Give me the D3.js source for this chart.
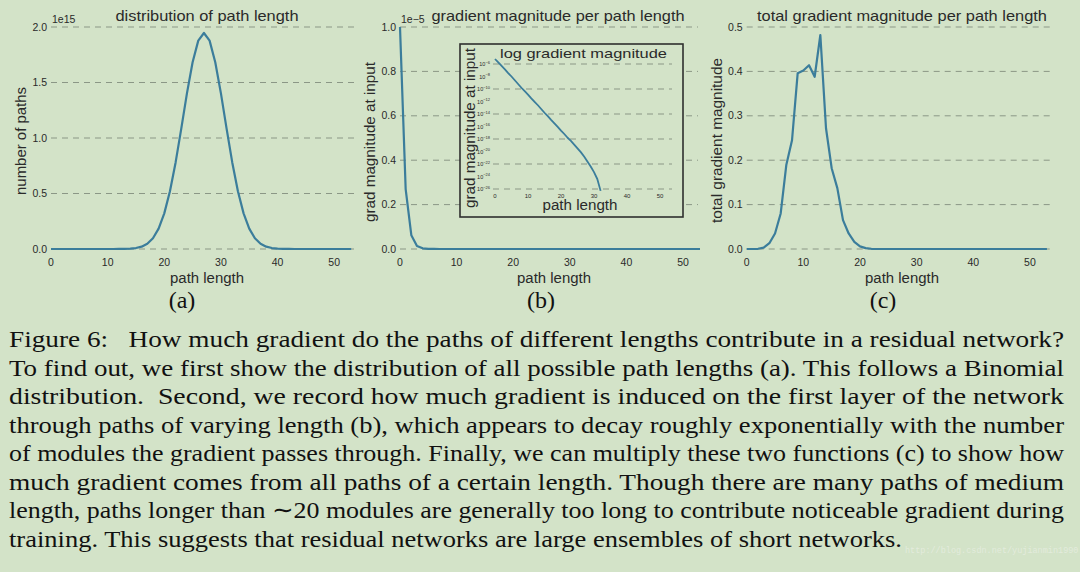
<!DOCTYPE html>
<html><head><meta charset="utf-8">
<script src="https://cdn.jsdelivr.net/npm/d3@7/dist/d3.min.js"></script>
<style>html,body{margin:0;padding:0;background:#d3e3c8;} svg{display:block}</style>
</head><body>
<svg id="chart" width="1080" height="572"></svg>
<script>
// ---------------- data ----------------
const pathLengths = [0,1,2,3,4,5,6,7,8,9,10,11,12,13,14,15,16,17,18,19,20,21,22,23,24,25,26,27,28,29,30,31,32,33,34,35,36,37,38,39,40,41,42,43,44,45,46,47,48,49,50,51,52,53];
// (a) number of paths, units of 1e15
const numPaths = [0,0,0,0,0,0,0,0,0,0,0,0.0001,0.0003,0.0011,0.0032,0.0087,0.021,0.047,0.097,0.184,0.321,0.520,0.780,1.085,1.402,1.682,1.877,1.946,1.877,1.682,1.402,1.085,0.780,0.520,0.321,0.184,0.097,0.047,0.021,0.0087,0.0032,0.0011,0.0003,0.0001,0,0,0,0,0,0,0,0,0,0];
// (b) gradient magnitude at input, units of 1e-5
const gradMag = [1.0,0.27,0.062,0.014,0.003,0.0008,0.0002,0,0,0,0,0,0,0,0,0,0,0,0,0,0,0,0,0,0,0,0,0,0,0,0,0,0,0,0,0,0,0,0,0,0,0,0,0,0,0,0,0,0,0,0,0,0,0];
// (b) inset: log10 of gradient magnitude for path lengths 0..32
const logGradExp = [-5.2,-5.75,-6.3,-6.85,-7.45,-8.0,-8.6,-9.2,-9.8,-10.35,-10.9,-11.5,-12.05,-12.6,-13.2,-13.8,-14.35,-14.95,-15.5,-16.05,-16.65,-17.2,-17.8,-18.3,-18.9,-19.5,-20.1,-20.8,-21.6,-22.4,-23.3,-24.4,-26.3];
// (c) total gradient magnitude
const totalGrad = [0,0,0.0005,0.003,0.013,0.035,0.08,0.19,0.245,0.396,0.402,0.414,0.388,0.482,0.272,0.182,0.137,0.065,0.035,0.016,0.006,0.002,0.0005,0,0,0,0,0,0,0,0,0,0,0,0,0,0,0,0,0,0,0,0,0,0,0,0,0,0,0,0,0,0,0];

const xTicks = [0,10,20,30,40,50];
const yTicksA = [0.0,0.5,1.0,1.5,2.0];
const yTicksB = [0.0,0.2,0.4,0.6,0.8,1.0];
const yTicksC = [0.0,0.1,0.2,0.3,0.4,0.5];
const insetYTicks = [-6,-8,-10,-12,-14,-16,-18,-20,-22,-24,-26];
const insetGridExp = [-6,-10,-14,-18,-22,-26];

const captionLines = [
 "Figure 6:\u00a0\u00a0 How much gradient do the paths of different lengths contribute in a residual network?",
 "To find out, we first show the distribution of all possible path lengths (a). This follows a Binomial",
 "distribution.\u00a0 Second, we record how much gradient is induced on the first layer of the network",
 "through paths of varying length (b), which appears to decay roughly exponentially with the number",
 "of modules the gradient passes through. Finally, we can multiply these two functions (c) to show how",
 "much gradient comes from all paths of a certain length. Though there are many paths of medium",
 "length, paths longer than \u223c20 modules are generally too long to contribute noticeable gradient during",
 "training. This suggests that residual networks are large ensembles of short networks."
];

// ---------------- drawing ----------------
const svg = d3.select('#chart');
const BG = '#d3e3c8', LINE = '#3b7d9b', TXT = '#2a2a2a', GRID = '#8b9786';
const FAM = {sans: "'Liberation Sans'", serif: "'Liberation Serif'", mono: "'Liberation Mono'"};

svg.append('rect').attr('width',1080).attr('height',572).attr('fill',BG);

function T(sel, x, y, s, o = {}) {
  const t = sel.append('text').attr('x', x).attr('y', y).text(s)
    .style('font-family', FAM[o.cls || 'sans'])
    .attr('font-size', o.size || 12)
    .attr('fill', o.fill || TXT)
    .attr('text-anchor', o.anchor || 'start');
  if (o.len) t.attr('textLength', o.len).attr('lengthAdjust', 'spacingAndGlyphs');
  return t;
}
function VT(sel, x, y, s, o = {}) {
  const t = sel.append('text').attr('transform', `translate(${x},${y}) rotate(-90)`).text(s)
    .style('font-family', FAM.sans).attr('font-size', o.size || 14).attr('fill', TXT)
    .attr('text-anchor', 'middle').attr('dominant-baseline', 'central');
  if (o.len) t.attr('textLength', o.len).attr('lengthAdjust', 'spacingAndGlyphs');
  return t;
}

const yRange = [249, 27];

function panel(cfg) {
  const g = svg.append('g');
  const x = d3.scaleLinear().domain(cfg.xdom).range(cfg.xr);
  const y = d3.scaleLinear().domain(cfg.ydom).range(yRange);
  g.selectAll('line.grid').data(cfg.yTicks).join('line')
    .attr('x1', cfg.xr[0]).attr('x2', cfg.gridEnd)
    .attr('y1', d => y(d)).attr('y2', d => y(d))
    .attr('stroke', GRID).attr('stroke-width', 1).attr('stroke-dasharray', '6,5');
  cfg.yTicks.forEach(v => T(g, cfg.xr[0] - 4, y(v) + 3.5, v.toFixed(1), {size: 10.5, anchor: 'end'}));
  xTicks.forEach(v => T(g, x(v), 266, String(v), {size: 10.5, anchor: 'middle'}));
  const line = d3.line().x((d, i) => x(pathLengths[i])).y(d => y(d));
  g.append('path').datum(cfg.values).attr('d', line)
    .attr('fill', 'none').attr('stroke', LINE).attr('stroke-width', 2.2).attr('stroke-linejoin', 'round');
  T(g, cfg.titleX, 21, cfg.title, {size: 14.5, anchor: 'middle', len: cfg.titleLen});
  T(g, cfg.xlabX, 283, 'path length', {size: 14, anchor: 'middle', len: 74});
  VT(g, cfg.ylabX, cfg.ylabY, cfg.ylab, {size: 14.5, len: cfg.ylabLen});
  if (cfg.offset) T(g, cfg.xr[0] + 1, 23, cfg.offset, {size: 10.5});
  T(svg, cfg.capX, 308, cfg.cap, {cls: 'serif', size: 24, anchor: 'middle', fill: '#111'});
  return {g, x, y};
}

panel({xdom: [0, 54.2], xr: [51, 358], gridEnd: 358, ydom: [0, 2.0], yTicks: yTicksA, values: numPaths,
  title: 'distribution of path length', titleX: 207, titleLen: 183, xlabX: 207,
  ylab: 'number of paths', ylabX: 21, ylabY: 141, ylabLen: 108, offset: '1e15', capX: 182, cap: '(a)'});

panel({xdom: [0, 53], xr: [400, 700], gridEnd: 698, ydom: [0, 1.0], yTicks: yTicksB, values: gradMag,
  title: 'gradient magnitude per path length', titleX: 558, titleLen: 253, xlabX: 554,
  ylab: 'grad magnitude at input', ylabX: 370, ylabY: 142, ylabLen: 160, offset: '1e\u22125', capX: 541, cap: '(b)'});

panel({xdom: [0, 54], xr: [746.7, 1052.6], gridEnd: 1052, ydom: [0, 0.5], yTicks: yTicksC, values: totalGrad,
  title: 'total gradient magnitude per path length', titleX: 902, titleLen: 290, xlabX: 902,
  ylab: 'total gradient magnitude', ylabX: 717, ylabY: 140.5, ylabLen: 165, capX: 883, cap: '(c)'});

// ---------------- inset ----------------
const ins = svg.append('g');
ins.append('rect').attr('x', 460).attr('y', 44).attr('width', 223).attr('height', 173)
  .attr('fill', BG).attr('stroke', '#2f2f2f').attr('stroke-width', 1.6);
const ix = d3.scaleLinear().domain([0, 50]).range([495, 660]);
const iy = d3.scaleLog().domain([1e-26, 1e-6]).range([189, 64]);
ins.selectAll('line.ig').data(insetGridExp).join('line')
  .attr('x1', 493).attr('x2', 672)
  .attr('y1', d => iy(Math.pow(10, d))).attr('y2', d => iy(Math.pow(10, d)))
  .attr('stroke', GRID).attr('stroke-width', 1).attr('stroke-dasharray', '6,5');
insetYTicks.forEach(e => {
  const t = ins.append('text').attr('x', 490).attr('y', iy(Math.pow(10, e)) + 2)
    .style('font-family', FAM.sans).attr('font-size', 5.5).attr('fill', TXT).attr('text-anchor', 'end');
  t.append('tspan').text('10');
  t.append('tspan').attr('dy', -2.5).attr('font-size', 4).text('\u2212' + (-e));
});
xTicks.forEach(v => T(ins, ix(v), 198, String(v), {size: 6, anchor: 'middle'}));
const iline = d3.line().x((d, i) => ix(pathLengths[i])).y(d => iy(Math.pow(10, d)));
ins.append('path').datum(logGradExp).attr('d', iline)
  .attr('fill', 'none').attr('stroke', LINE).attr('stroke-width', 1.8).attr('stroke-linejoin', 'round');
T(ins, 583.5, 57.5, 'log gradient magnitude', {size: 13.5, anchor: 'middle', len: 167});
T(ins, 580, 210, 'path length', {size: 14, anchor: 'middle', len: 75});
VT(ins, 470, 128, 'grad magnitude at input', {size: 14, len: 160});

// ---------------- caption ----------------
const cap = svg.append('g');
captionLines.forEach((s, i) => {
  const last = i === captionLines.length - 1;
  T(cap, 9, 347 + i * 28.5, s, {cls: 'serif', size: 24, fill: '#111', len: last ? 893 : 1055});
});
T(cap, 905, 553, 'http://blog.csdn.net/yujianmin1990', {cls: 'mono', size: 8.5, fill: '#e6eee0'}).attr('opacity', 0.85);
</script>
</body></html>
